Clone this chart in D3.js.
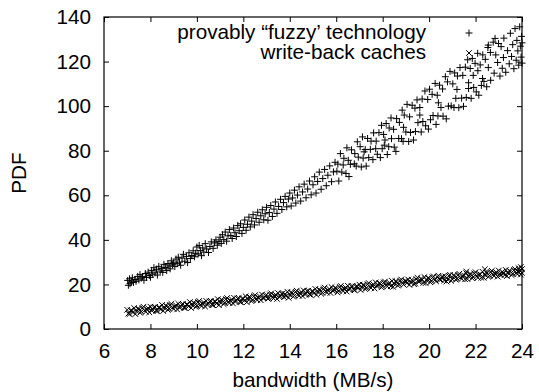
<!DOCTYPE html>
<html lang="en">
<head>
  <meta charset="UTF-8">
  <title>PDF vs bandwidth</title>
  <script src="https://d3js.org/d3.v7.min.js"></script>
  <style>
    body {
      margin: 0;
      background: #fff;
      font-family: "Liberation Sans", Arial, Helvetica, sans-serif;
    }
    text {
      font-size: 20.7px;
      fill: #000;
    }
  </style>
</head>
<body>
  <div id="chart"></div>

  <script>
    const xTicks = [6, 8, 10, 12, 14, 16, 18, 20, 22, 24];
    const yTicks = [0, 20, 40, 60, 80, 100, 120, 140];
    const seriesNames = ["provably \u201cfuzzy\u2019 technology", "write-back caches"];
    const xLabel = "bandwidth (MB/s)";
    const yLabel = "PDF";

    // upper cloud (+)
    const fuzzyPoints = [
      [7.02,21.8],[7.05,19.6],[7.1,22.5],[7.12,20.3],[7.18,21.1],[7.22,23.0],[7.27,20.9],[7.33,22.2],[7.38,21.4],[7.45,23.6],
      [7.5,22.0],[7.55,24.4],[7.6,22.8],[7.66,23.5],[7.72,21.9],[7.78,24.9],[7.83,23.1],[7.9,25.5],[7.95,24.0],[8.0,23.2],
      [8.05,26.3],[8.1,24.6],[8.15,27.5],[8.2,25.2],[8.26,26.8],[8.3,24.2],[8.36,28.1],[8.42,26.0],[8.48,27.2],[8.53,25.4],
      [8.58,29.0],[8.64,27.6],[8.7,26.2],[8.75,29.4],[8.8,28.3],[8.85,27.0],[8.9,30.6],[8.95,28.8],[9.0,29.7],
      [9.05,28.0],[9.1,31.4],[9.15,29.3],[9.2,32.2],[9.25,30.0],[9.3,28.6],[9.36,31.8],[9.42,33.5],[9.48,30.4],[9.55,32.6],
      [9.6,29.8],[9.66,34.2],[9.72,31.6],[9.78,33.0],[9.84,35.1],[9.9,32.4],[9.95,34.0],[10.0,36.8],
      [10.05,33.6],[10.1,37.5],[10.15,35.2],[10.2,32.9],[10.25,36.4],[10.3,34.5],[10.36,38.3],[10.42,35.9],[10.5,34.3],
      [10.56,37.0],[10.62,39.1],[10.7,36.2],[10.76,38.6],[10.82,40.0],[10.88,37.6],[10.95,39.3],[11.0,41.2],
      [11.05,38.4],[11.1,42.3],[11.16,40.1],[11.22,43.5],[11.28,39.4],[11.34,41.8],[11.4,44.6],[11.46,42.0],[11.52,40.6],
      [11.58,45.3],[11.64,43.2],[11.7,41.5],[11.76,46.4],[11.82,44.1],[11.88,47.2],[11.94,42.9],[12.0,45.6],
      [12.06,48.9],[12.12,44.3],[12.18,47.0],[12.24,50.2],[12.3,45.8],[12.36,48.4],[12.42,51.3],[12.48,46.7],[12.55,49.6],
      [12.62,52.4],[12.68,47.9],[12.75,50.8],[12.82,53.5],[12.88,49.0],[12.94,51.7],[13.0,54.6],
      [13.06,48.8],[13.12,52.3],[13.18,55.4],[13.25,50.5],[13.32,53.8],[13.38,57.0],[13.45,51.9],[13.52,55.0],[13.6,58.2],
      [13.66,53.6],[13.73,56.7],[13.8,59.5],[13.87,54.8],[13.94,58.3],[14.0,61.0],
      [14.06,55.2],[14.12,58.8],[14.2,62.3],[14.26,56.5],[14.33,60.1],[14.4,63.8],[14.47,57.4],[14.55,61.5],[14.62,65.0],
      [14.7,58.9],[14.77,62.8],[14.85,66.4],[14.92,60.2],[15.0,64.7],
      [15.07,68.3],[15.13,61.0],[15.2,66.2],[15.27,70.4],[15.35,62.7],[15.42,67.5],[15.5,71.6],[15.57,64.3],[15.64,69.0],
      [15.72,73.2],[15.8,66.1],[15.88,70.5],[15.95,74.8],
      // lower strand
      [16.03,70.8],[16.11,66.4],[16.24,70.4],[16.3,73.6],[16.42,69.8],[16.55,68.4],[16.61,73.9],[16.78,74.1],[16.86,73.1],
      [16.95,77.1],[17.08,72.7],[17.16,76.7],[17.29,73.1],[17.4,76.9],[17.47,80.6],[17.58,76.0],[17.7,80.9],[17.77,78.4],
      [17.9,76.9],[17.98,80.9],[18.07,82.5],[18.2,78.3],[18.26,81.8],[18.38,85.4],[18.5,81.6],[18.57,79.7],[18.69,85.5],
      [18.81,85.4],[18.88,84.2],[19.0,88.4],[19.12,84.1],[19.2,88.2],[19.33,84.8],[19.41,88.6],[19.52,92.6],[19.66,88.4],
      [19.73,93.1],[19.85,91.2],[19.97,89.7],[20.06,93.9],[20.17,95.8],[20.3,91.8],[20.38,95.6],[20.51,99.4],[20.6,95.5],
      [20.74,94.3],[20.83,100.0],[20.95,100.1],[21.07,99.4],[21.15,103.5],[21.28,99.3],[21.4,103.6],[21.48,99.9],[21.6,103.9],
      [21.7,107.9],[21.81,103.5],[21.92,108.4],[22.03,106.4],[22.14,104.9],[22.25,109.3],[22.36,111.1],[22.48,108.7],
      // upper strand
      [16.07,74.0],[16.18,78.7],[16.33,76.6],[16.46,81.3],[16.52,75.7],[16.66,80.4],[16.8,78.7],[16.91,84.0],[17.03,81.8],
      [17.13,86.2],[17.25,80.5],[17.35,85.5],[17.5,84.3],[17.61,88.0],[17.72,84.3],[17.84,88.1],[17.95,91.4],[18.04,87.3],
      [18.15,92.2],[18.28,90.2],[18.36,94.7],[18.47,89.6],[18.6,94.4],[18.72,92.7],[18.84,98.2],[18.93,96.0],[19.05,100.8],
      [19.16,95.2],[19.27,100.4],[19.39,99.1],[19.48,102.8],[19.6,99.4],[19.7,103.2],[19.82,106.8],[19.94,103.0],[20.02,107.6],
      [20.13,105.3],[20.26,110.2],[20.35,104.9],[20.45,109.4],[20.58,107.7],[20.7,113.2],[20.79,110.9],[20.9,115.6],[21.02,110.0],
      [21.1,114.9],[21.22,113.5],[21.33,117.3],[21.45,113.8],[21.56,117.5],[21.66,120.8],[21.77,116.9],[21.86,121.4],[21.98,119.2],
      [22.09,123.7],[22.2,118.5],[22.31,123.0],[22.42,121.0],[22.53,126.3],[22.64,124.1],[22.76,128.7],[22.87,123.0],[22.99,128.1],
      [23.1,126.7],[23.22,130.5],
      // in between and far right
      [17.2,79.5],[18.1,84.8],[18.9,90.5],[19.6,96.0],[20.4,101.5],[21.2,107.5],
      [21.7,110.5],[21.9,113.8],[22.1,115.9],[22.3,112.4],[22.55,117.3],[22.65,111.6],[22.8,114.8],[22.95,119.6],[23.05,113.5],
      [23.15,117.0],[23.2,121.8],[23.3,115.2],[23.38,124.9],[23.45,119.0],[23.5,132.7],[23.55,122.3],[23.6,127.6],[23.65,116.8],
      [23.7,134.8],[23.75,120.6],[23.78,129.5],[23.82,124.8],[23.86,118.4],[23.9,135.6],[23.93,126.9],[23.96,122.0],
      [23.98,131.3],[24.0,128.4],[24.0,119.3],[22.55,127.4],[22.84,130.4]
    ];

    // lower band (x)
    const cachePoints = [
      [7.0,8.6],[7.05,6.9],[7.1,6.7],[7.15,8.3],[7.2,8.3],[7.25,7.5],[7.3,9.4],[7.35,6.7],[7.4,8.0],[7.45,9.1],
      [7.5,9.0],[7.55,7.3],[7.6,7.8],[7.65,9.5],[7.7,10.0],[7.75,8.3],[7.8,7.7],[7.85,8.9],[7.9,9.3],[7.95,7.5],
      [8.0,10.0],[8.05,8.3],[8.1,8.6],[8.15,9.7],[8.2,9.9],[8.25,8.2],[8.3,8.0],[8.35,9.6],[8.4,9.6],[8.45,8.8],
      [8.5,10.8],[8.55,8.1],[8.6,9.4],[8.65,10.5],[8.7,10.3],[8.75,8.6],[8.8,9.1],[8.85,10.8],[8.9,11.3],[8.95,9.6],
      [9.0,9.0],[9.05,10.2],[9.1,10.6],[9.15,8.8],[9.2,11.3],[9.25,9.6],[9.3,9.9],[9.35,11.0],[9.4,11.2],[9.45,9.5],
      [9.5,9.4],[9.55,11.0],[9.6,11.0],[9.65,10.2],[9.7,12.1],[9.75,9.4],[9.8,10.7],[9.85,11.8],[9.9,11.6],[9.95,9.9],
      [10.0,10.4],[10.05,12.1],[10.1,12.6],[10.15,10.9],[10.2,10.3],[10.25,11.5],[10.3,11.9],[10.35,10.1],[10.4,12.6],[10.45,10.9],
      [10.5,11.3],[10.55,12.4],[10.6,12.6],[10.65,10.9],[10.7,10.7],[10.75,12.3],[10.8,12.3],[10.85,11.5],[10.9,13.4],[10.95,10.7],
      [11.0,12.0],[11.05,13.1],[11.1,12.9],[11.15,11.2],[11.2,11.7],[11.25,13.4],[11.3,13.9],[11.35,12.2],[11.4,11.6],[11.45,12.8],
      [11.5,13.3],[11.55,11.5],[11.6,14.0],[11.65,12.3],[11.7,12.6],[11.75,13.7],[11.8,13.9],[11.85,12.2],[11.9,12.0],[11.95,13.6],
      [12.0,13.6],[12.05,12.8],[12.1,14.7],[12.15,12.0],[12.2,13.3],[12.25,14.4],[12.3,14.2],[12.35,12.5],[12.4,13.0],[12.45,14.7],
      [12.5,15.2],[12.55,13.5],[12.6,13.0],[12.65,14.2],[12.7,14.7],[12.75,12.9],[12.8,15.5],[12.85,13.8],[12.9,13.9],[12.95,15.0],
      [13.0,15.3],[13.05,13.6],[13.1,13.8],[13.15,15.5],[13.2,16.0],[13.25,14.3],[13.3,13.7],[13.35,14.9],[13.4,15.3],[13.45,13.5],
      [13.5,16.1],[13.55,14.4],[13.6,14.7],[13.65,15.8],[13.7,16.0],[13.75,14.3],[13.8,15.6],[13.85,14.8],[13.9,16.7],[13.95,14.0],
      [14.0,15.3],[14.05,16.4],[14.1,16.2],[14.15,14.5],[14.2,15.0],[14.25,16.7],[14.3,17.2],[14.35,15.5],[14.4,14.9],[14.45,16.1],
      [14.5,16.6],[14.55,14.8],[14.6,17.3],[14.65,15.6],[14.7,15.9],[14.75,17.0],[14.8,17.2],[14.85,15.5],[14.9,15.3],[14.95,16.9],
      [15.0,16.9],[15.05,16.1],[15.1,18.0],[15.15,15.3],[15.2,16.6],[15.25,17.7],[15.3,17.5],[15.35,15.8],[15.4,16.3],[15.45,18.0],
      [15.5,18.6],[15.55,16.9],[15.6,16.3],[15.65,17.5],[15.7,18.0],[15.75,16.2],[15.8,18.8],[15.85,17.1],[15.9,17.4],[15.95,18.5],
      [16.0,18.2],[16.05,16.4],[16.1,17.1],[16.15,18.8],[16.2,19.3],[16.25,17.6],[16.3,17.0],[16.35,18.2],[16.4,18.6],[16.45,16.8],
      [16.5,19.4],[16.55,17.7],[16.6,18.0],[16.65,19.1],[16.7,19.3],[16.75,17.6],[16.8,17.4],[16.85,19.0],[16.9,19.2],[16.95,18.4],
      [17.0,19.9],[17.05,17.5],[17.1,18.7],[17.15,19.8],[17.2,19.6],[17.25,17.9],[17.3,18.4],[17.35,20.1],[17.4,20.6],[17.45,18.9],
      [17.5,18.4],[17.55,19.6],[17.6,20.0],[17.65,18.2],[17.7,20.9],[17.75,19.2],[17.8,19.5],[17.85,20.6],[17.9,20.4],[17.95,18.7],
      [18.0,19.2],[18.05,20.9],[18.1,21.3],[18.15,19.7],[18.2,19.1],[18.25,20.3],[18.3,20.7],[18.35,19.2],[18.4,21.6],[18.45,18.9],
      [18.5,20.3],[18.55,21.4],[18.6,21.2],[18.65,19.5],[18.7,20.0],[18.75,21.7],[18.8,22.2],[18.85,20.5],[18.9,19.9],[18.95,21.6],
      [19.0,21.5],[19.05,20.7],[19.1,22.2],[19.15,19.8],[19.2,21.0],[19.25,22.1],[19.3,21.6],[19.35,20.1],[19.4,20.4],[19.45,22.4],
      [19.5,23.0],[19.55,21.3],[19.6,21.4],[19.65,22.6],[19.7,22.1],[19.75,20.7],[19.8,23.3],[19.85,20.6],[19.9,21.8],[19.95,22.9],
      [20.0,22.7],[20.05,21.0],[20.1,21.5],[20.15,23.2],[20.2,23.6],[20.25,22.0],[20.3,21.4],[20.35,23.4],[20.4,23.9],[20.45,22.2],
      [20.5,22.1],[20.55,23.3],[20.6,23.5],[20.65,21.8],[20.7,23.6],[20.75,21.3],[20.8,22.3],[20.85,23.9],[20.9,24.3],[20.95,21.6],
      [21.0,22.4],[21.05,24.1],[21.1,23.8],[21.15,22.1],[21.2,22.6],[21.25,24.3],[21.3,24.8],[21.35,23.1],[21.4,22.5],[21.45,23.7],
      [21.5,24.1],[21.55,22.3],[21.6,25.0],[21.65,22.4],[21.7,23.6],[21.75,24.7],[21.8,24.5],[21.85,22.8],[21.9,23.3],[21.95,25.0],
      [22.0,25.5],[22.05,23.8],[22.1,23.0],[22.15,24.4],[22.2,24.6],[22.25,23.0],[22.3,25.7],[22.35,23.0],[22.4,24.3],[22.45,25.4],
      [22.5,25.1],[22.55,23.4],[22.6,23.9],[22.65,25.6],[22.7,26.1],[22.75,24.4],[22.8,23.8],[22.85,25.1],[22.9,25.4],[22.95,23.5],
      [23.0,26.2],[23.05,24.5],[23.1,24.3],[23.15,25.7],[23.2,24.9],[23.25,24.2],[23.3,26.5],[23.35,23.8],[23.4,25.1],[23.45,26.2],
      [23.5,25.9],[23.55,24.2],[23.6,24.7],[23.65,26.4],[23.7,26.9],[23.75,25.2],[23.8,24.6],[23.85,25.8],[23.9,26.2],[23.95,24.4],
      [24.0,26.9],[24.0,25.2],[23.95,27.8],[23.85,27.3],[22.4,26.8],[21.6,25.8]
    ];

    const margin = {top: 17, right: 17, bottom: 63, left: 104},
    width = 539 - margin.left - margin.right,
    height = 392 - margin.top - margin.bottom;

    const svgRoot = d3.select("#chart")
                  .append("svg")
                  .attr("width", width + margin.left + margin.right)
                  .attr("height", height + margin.top + margin.bottom);

    const svg = svgRoot.append("g")
                  .attr("transform", `translate(${margin.left},${margin.top})`);

    const x = d3.scaleLinear().domain([6, 24]).range([0, width]);
    const y = d3.scaleLinear().domain([0, 140]).range([height, 0]);

    const plusPath = "M-3.5,0H3.5M0,-3.5V3.5";
    const crossPath = "M-2.8,-2.8L2.8,2.8M-2.8,2.8L2.8,-2.8";

    // axes, ticks point inward on all four sides
    svg.append("g")
       .attr("transform", `translate(0,${height})`)
       .call(d3.axisBottom(x).tickValues(xTicks).tickSizeInner(-5).tickSizeOuter(0).tickPadding(14));
    svg.append("g")
       .call(d3.axisLeft(y).tickValues(yTicks).tickSizeInner(-5).tickSizeOuter(0).tickPadding(13));
    svg.append("g")
       .call(d3.axisTop(x).tickValues(xTicks).tickSizeInner(-5).tickSizeOuter(0).tickFormat(""));
    svg.append("g")
       .attr("transform", `translate(${width},0)`)
       .call(d3.axisRight(y).tickValues(yTicks).tickSizeInner(-5).tickSizeOuter(0).tickFormat(""));

    svg.selectAll(".domain").remove();
    svg.selectAll(".tick line").attr("stroke", "#000");
    svg.selectAll(".tick text")
       .style("font-family", "'Liberation Sans', Arial, sans-serif")
       .style("font-size", "20.7px")
       .attr("fill", "#000");

    svg.append("rect")
       .attr("x", 0).attr("y", 0)
       .attr("width", width).attr("height", height)
       .attr("fill", "none")
       .attr("stroke", "#000")
       .attr("stroke-width", 1.2);

    // points
    svg.append("g")
       .selectAll("path")
       .data(fuzzyPoints)
       .enter()
       .append("path")
       .attr("d", plusPath)
       .attr("transform", d => `translate(${x(d[0])},${y(d[1])})`)
       .attr("stroke", "#000")
       .attr("stroke-width", 1)
       .attr("fill", "none");

    svg.append("g")
       .selectAll("path")
       .data(cachePoints)
       .enter()
       .append("path")
       .attr("d", crossPath)
       .attr("transform", d => `translate(${x(d[0])},${y(d[1])})`)
       .attr("stroke", "#000")
       .attr("stroke-width", 1)
       .attr("fill", "none");

    // legend
    const legend = svg.append("g");
    const markers = [plusPath, crossPath];
    seriesNames.forEach((name, i) => {
      legend.append("text")
            .attr("x", 322)
            .attr("y", 22 + i * 20)
            .attr("text-anchor", "end")
            .text(name);
      legend.append("path")
            .attr("d", markers[i])
            .attr("transform", `translate(365,${16 + i * 20})`)
            .attr("stroke", "#000")
            .attr("fill", "none");
    });

    // axis titles
    svgRoot.append("text")
       .attr("x", margin.left + width / 2)
       .attr("y", 387)
       .attr("text-anchor", "middle")
       .text(xLabel);

    svgRoot.append("text")
       .attr("transform", `translate(26,${margin.top + height / 2}) rotate(-90)`)
       .attr("text-anchor", "middle")
       .text(yLabel);
  </script>
</body>
</html>
